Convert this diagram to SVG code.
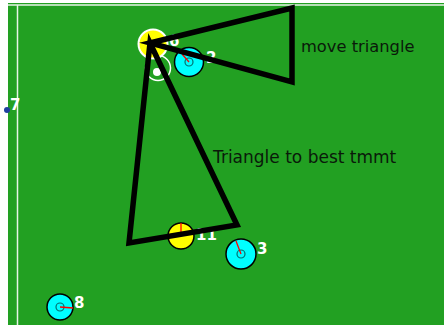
<svg xmlns="http://www.w3.org/2000/svg" width="444" height="325" viewBox="0 0 444 325">
<style>
.lbl{font-family:"DejaVu Sans",sans-serif;font-size:15px;fill:#ffffff;font-weight:bold}
.txt{font-family:"DejaVu Sans",sans-serif;fill:#0a1a0a}
.cyan{fill:#00ffff;stroke:#000;stroke-width:1.5}
.yel{fill:#ffff00;stroke:#000;stroke-width:1.5}
.inner{fill:none;stroke:#007070;stroke-width:1.2}
.dir{stroke:#ff0000;stroke-width:1.3}
.tri{fill:none;stroke:#000;stroke-width:5.5;stroke-linejoin:miter}
</style>
<rect x="0" y="0" width="444" height="325" fill="#ffffff"/>
<rect x="8" y="3" width="436" height="322" fill="#22a022"/>
<line x1="8" y1="5" x2="444" y2="5" stroke="#e8f4e8" stroke-width="1.5"/>
<line x1="17.5" y1="5" x2="17.5" y2="325" stroke="#e8f4e8" stroke-width="1.5"/>
<g id="node-7">
<circle cx="7" cy="110" r="3" fill="#2040a0"/>
<text class="lbl" x="10" y="110">7</text>
</g>
<g id="node-ghost">
<circle cx="158" cy="68" r="12.5" fill="none" stroke="#ffffff" stroke-width="1.5"/>
<circle cx="157" cy="72" r="4" fill="#ffffff"/>
</g>
<g id="node-6">
<circle cx="153" cy="44" r="14.5" fill="#ffff00" stroke="#ffffff" stroke-width="2"/>
<text class="lbl" x="169" y="46">6</text>
</g>
<g id="node-2">
<circle class="cyan" cx="189" cy="62" r="14.5"/>
<circle class="inner" cx="189" cy="62" r="4"/>
<line class="dir" x1="189" y1="62" x2="182" y2="54"/>
<text class="lbl" x="206" y="63">2</text>
</g>
<g id="node-11">
<circle class="yel" cx="181" cy="236" r="13"/>
<line class="dir" x1="181" y1="236" x2="181" y2="223"/>
<text class="lbl" x="196" y="240">11</text>
</g>
<g id="connectors">
<polygon class="tri" points="150,43 292,8 292,82"/>
<polygon class="tri" points="150,43 237,225 129,243"/>
</g>
<g id="node-3">
<circle class="cyan" cx="241" cy="254" r="15"/>
<circle class="inner" cx="241" cy="254" r="4"/>
<line class="dir" x1="241" y1="254" x2="236" y2="241"/>
<text class="lbl" x="257" y="254">3</text>
</g>
<g id="node-8">
<circle class="cyan" cx="60" cy="307" r="13"/>
<circle class="inner" cx="60" cy="307" r="4"/>
<line class="dir" x1="60" y1="307" x2="73" y2="308"/>
<text class="lbl" x="74" y="308">8</text>
</g>
<text class="txt" x="301" y="52" font-size="16.3">move triangle</text>
<text class="txt" x="213" y="163" font-size="17">Triangle to best tmmt</text>
</svg>
